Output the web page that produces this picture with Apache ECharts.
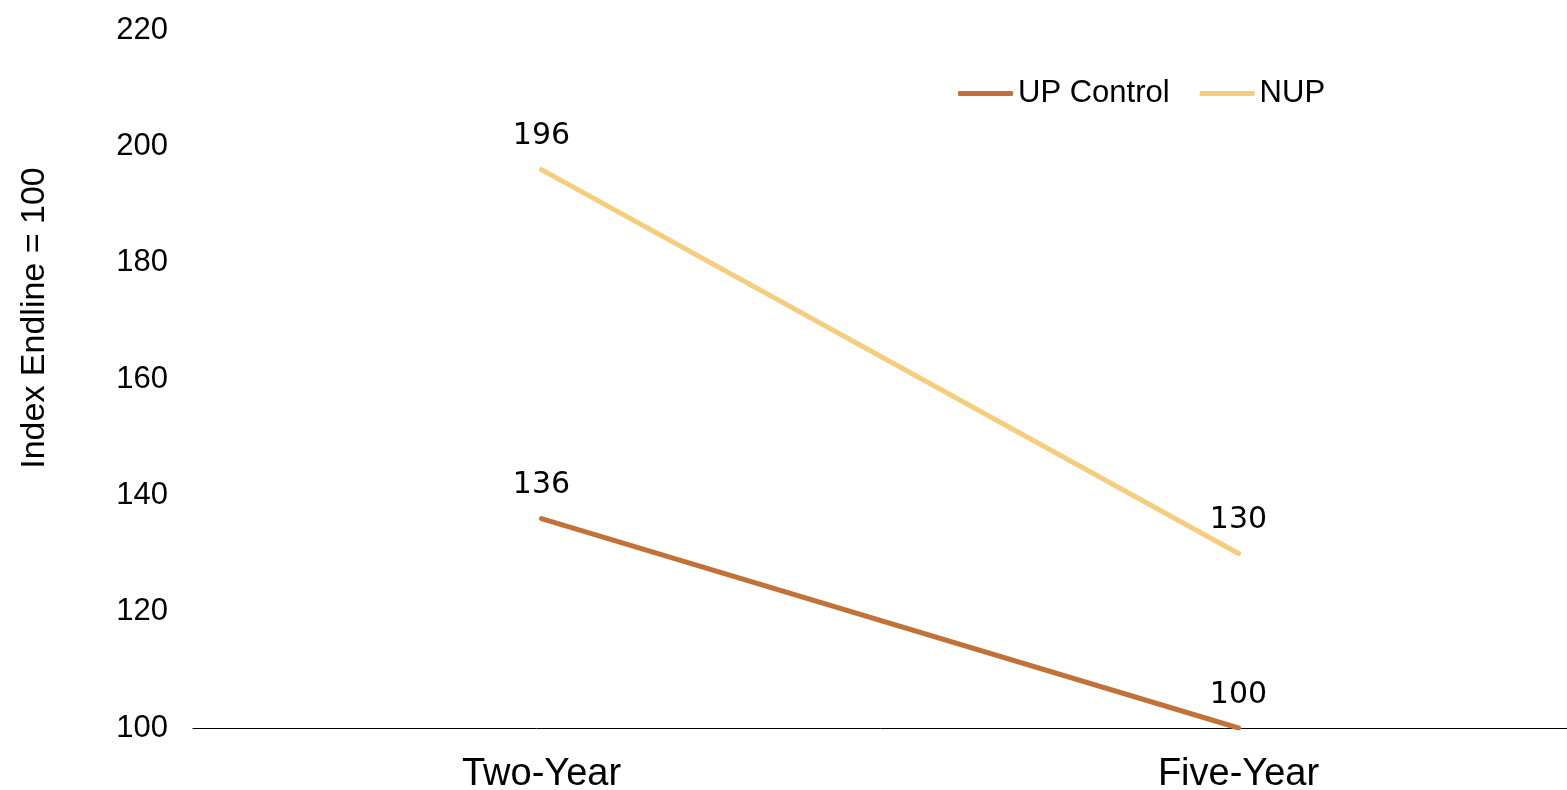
<!DOCTYPE html>
<html>
<head>
<meta charset="utf-8">
<script src="https://cdn.jsdelivr.net/npm/echarts@6/dist/echarts.min.js"></script>
<style>
  html, body { margin: 0; padding: 0; background: #fff; }
  #chart { width: 1567px; height: 790px; }
</style>
</head>
<body>
<div id="chart"></div>
<script>
var categories = ['Two-Year', 'Five-Year'];
var upControl = [136, 100];
var nup = [196, 130];
var yTicks = { min: 100, max: 220, step: 20 };

var chart = echarts.init(document.getElementById('chart'));

var labelStyle = {
  show: true,
  position: 'top',
  distance: 17,
  color: '#000',
  fontFamily: 'DejaVu Sans',
  fontSize: 30
};

var option = {
  animation: false,
  color: ['#C27238', '#F5CD7E'],
  legend: {
    left: 953,
    top: 73,
    icon: 'roundRect',
    itemWidth: 55,
    itemHeight: 5,
    itemGap: 30,
    textStyle: { color: '#000', fontFamily: 'Liberation Sans', fontSize: 31 },
    data: ['UP Control', 'NUP']
  },
  graphic: [{
    type: 'text',
    x: 35,
    y: 318,
    rotation: Math.PI / 2,
    style: {
      text: 'Index Endline = 100',
      fill: '#000',
      font: '34px "Liberation Sans", sans-serif',
      align: 'center',
      verticalAlign: 'middle'
    }
  }],
  grid: { left: 193, right: -20, top: 30, bottom: 62, containLabel: false, outerBoundsMode: 'none' },
  xAxis: {
    type: 'category',
    data: categories,
    boundaryGap: true,
    axisLine: { lineStyle: { color: '#000', width: 1 } },
    axisTick: { show: false },
    axisLabel: { color: '#000', fontFamily: 'Liberation Sans', fontSize: 38, margin: 28 }
  },
  yAxis: {
    type: 'value',
    min: yTicks.min,
    max: yTicks.max,
    interval: yTicks.step,
    axisLine: { show: false },
    axisTick: { show: false },
    splitLine: { show: false },
    axisLabel: { color: '#000', fontFamily: 'Liberation Sans', fontSize: 31, margin: 25 }
  },
  series: [{
    name: 'UP Control',
    type: 'line',
    data: upControl,
    symbol: 'circle',
    symbolSize: 2,
    showSymbol: true,
    lineStyle: { width: 5, cap: 'round' },
    label: labelStyle
  }, {
    name: 'NUP',
    type: 'line',
    data: nup,
    symbol: 'circle',
    symbolSize: 2,
    showSymbol: true,
    lineStyle: { width: 5, cap: 'round' },
    label: labelStyle
  }]
};

chart.setOption(option);
</script>
</body>
</html>
